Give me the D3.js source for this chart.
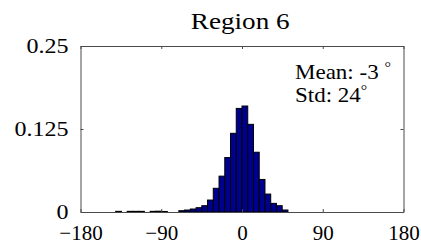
<!DOCTYPE html>
<html><head><meta charset="utf-8">
<script src="https://cdn.jsdelivr.net/npm/d3@7"></script>
<style>
html,body{margin:0;padding:0;background:#fff;}
svg{display:block;}
text{font-family:"Liberation Serif","Times New Roman",serif;fill:#000;}
</style></head>
<body>
<script>
// ---- data ----
const title = "Region 6";
const binWidth = 6.4; // degrees
const binLeft = [-140.8,-134.4,-128,-121.6,-115.2,-108.8,-102.4,-96,-89.6,-83.2,-76.8,-70.4,-64,-57.6,-51.2,-44.8,-38.4,-32,-25.6,-19.2,-12.8,-6.4,0,6.4,12.8,19.2,25.6,32,38.4,44.8];
const density = [0.001,0,0.001,0.001,0.001,0,0.001,0.0012,0.0008,0,0,0.002,0.003,0.0045,0.0065,0.0095,0.018,0.0357,0.054,0.082,0.1185,0.156,0.1596,0.132,0.09,0.049,0.027,0.013,0.0095,0.003];
const xTicks = [-180,-90,0,90,180];
const yTicks = [0,0.125,0.25];
const yTickLabels = ["0","0.125","0.25"];
const meanLabel = "Mean: -3 ";
const stdLabel = "Std: 24";

const bins = binLeft.map((b,i)=>({x0:b, v: density[i]}));

const W=421,H=248;
const m={left:80.5,right:17.5,top:46,bottom:36};
const svg=d3.select("body").append("svg").attr("width",W).attr("height",H);
const x=d3.scaleLinear().domain([-180,180]).range([m.left,W-m.right]);
const y=d3.scaleLinear().domain([0,0.25]).range([H-m.bottom,m.top]);
const sx=1.15;
const axisColor="#4a4a4a";

// bars
svg.append("g").selectAll("rect").data(bins.filter(d=>d.v>0)).join("rect")
  .attr("x",d=>x(d.x0)).attr("width",d=>x(d.x0+binWidth)-x(d.x0))
  .attr("y",d=>y(d.v)).attr("height",d=>y(0)-y(d.v))
  .attr("fill","#00008f").attr("stroke","#000").attr("stroke-width",1);

function styleAxis(g){
  g.select(".domain").attr("stroke",axisColor);
  g.selectAll(".tick line").attr("stroke",axisColor);
  g.selectAll(".tick text").attr("font-family","Liberation Serif").attr("font-size",20).attr("fill","#000");
}
const gB=svg.append("g").attr("transform",`translate(0,${y(0)})`)
  .call(d3.axisBottom(x).tickValues(xTicks).tickFormat(d3.format("d")).tickSizeInner(-3).tickSizeOuter(0).tickPadding(13));
styleAxis(gB);
gB.selectAll(".tick text").attr("font-size",21);
const gT=svg.append("g").attr("transform",`translate(0,${y(0.25)})`)
  .call(d3.axisTop(x).tickValues(xTicks).tickFormat("").tickSizeInner(-3).tickSizeOuter(0));
styleAxis(gT);
const gL=svg.append("g").attr("transform",`translate(${x(-180)},0)`)
  .call(d3.axisLeft(y).tickValues(yTicks).tickFormat((d,i)=>yTickLabels[i]).tickSizeInner(-3).tickSizeOuter(0).tickPadding(12));
styleAxis(gL);
gL.selectAll(".tick text").attr("transform",`translate(-12,0) scale(1.2,1) translate(12,0)`);
const gR=svg.append("g").attr("transform",`translate(${x(180)},0)`)
  .call(d3.axisRight(y).tickValues(yTicks).tickFormat("").tickSizeInner(-3).tickSizeOuter(0));
styleAxis(gR);

// title
svg.append("text").attr("transform",`translate(${x(-2)},28.5) scale(1.18,1)`)
  .attr("text-anchor","middle").attr("font-size",23).text(title);

// annotations
const a1=svg.append("text").attr("transform",`translate(295,79) scale(${sx},1)`).attr("font-size",20);
a1.append("tspan").text(meanLabel);
a1.append("tspan").attr("dy",-7).attr("font-size",14).text("°");
const a2=svg.append("text").attr("transform",`translate(295,101.5) scale(${sx},1)`).attr("font-size",20);
a2.append("tspan").text(stdLabel);
a2.append("tspan").attr("dy",-7).attr("font-size",14).text("°");
</script>
</body></html>
